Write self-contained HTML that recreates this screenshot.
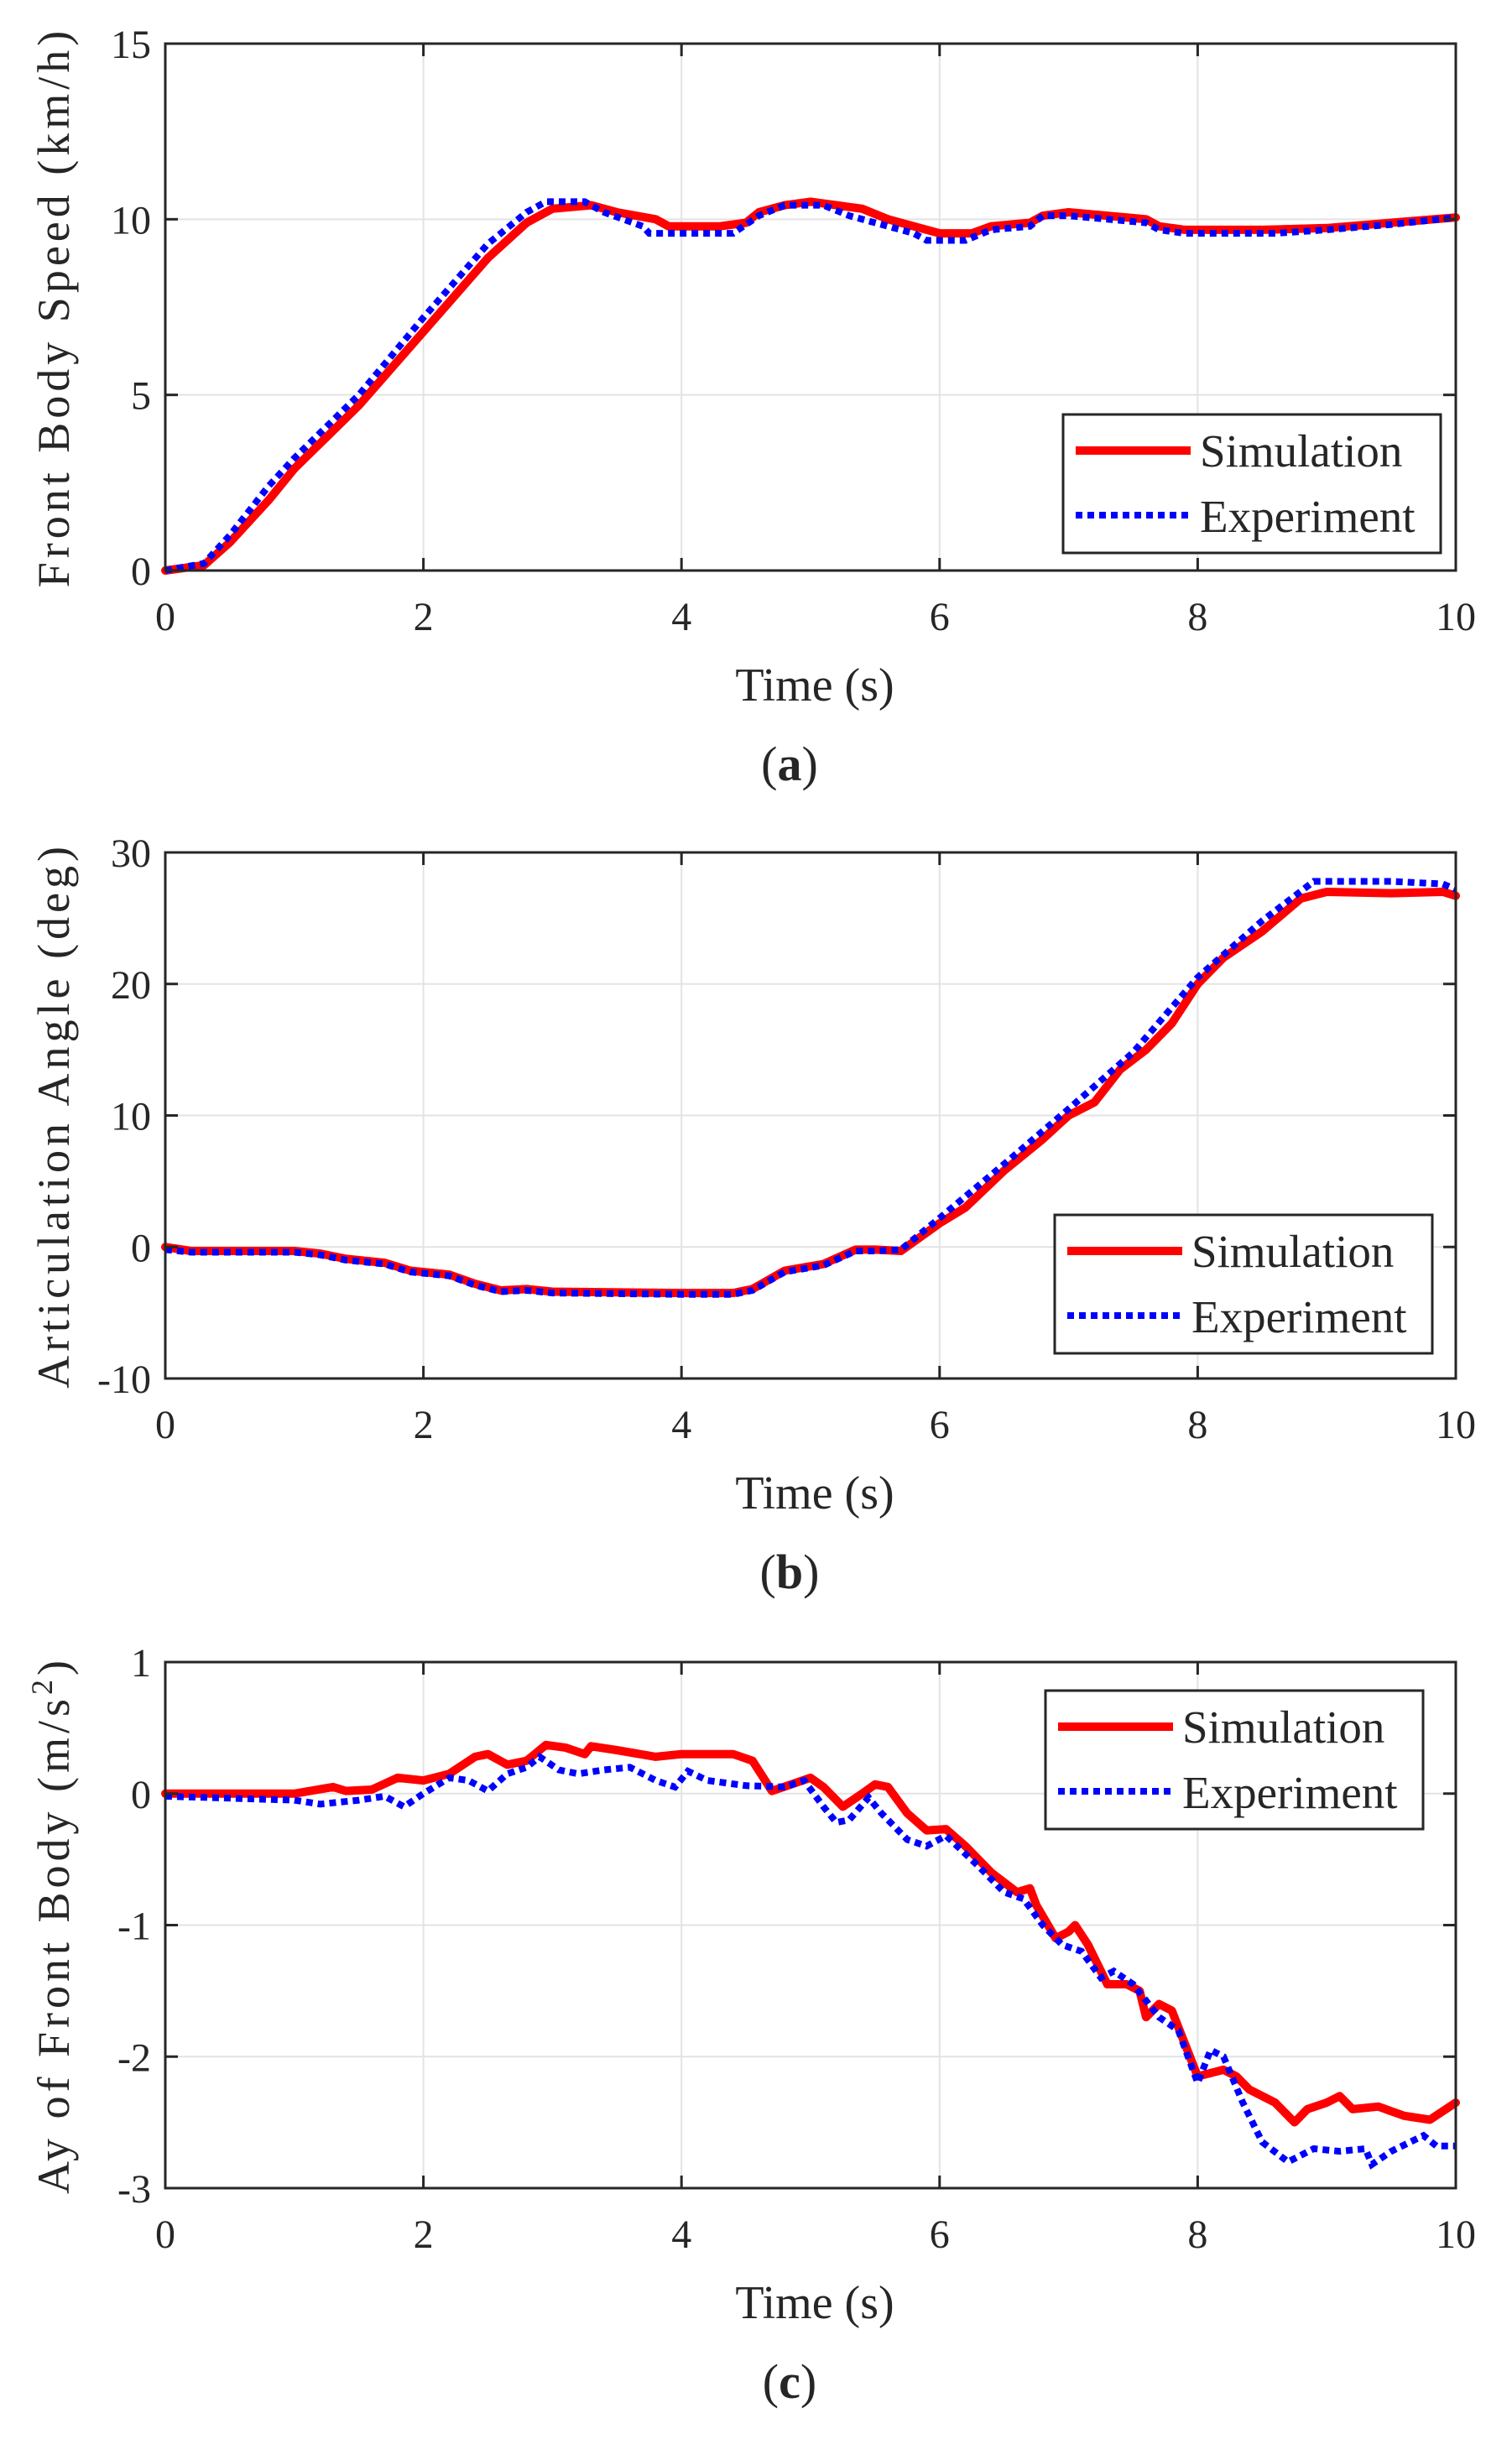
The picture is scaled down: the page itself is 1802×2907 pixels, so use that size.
<!DOCTYPE html>
<html><head><meta charset="utf-8"><style>
html,body{margin:0;padding:0;background:#fff}
svg text{font-family:"Liberation Serif",serif;fill:#262626}
</style></head><body>
<svg id="fig" xmlns="http://www.w3.org/2000/svg" width="1802" height="2902" viewBox="0 0 1802 2902"></svg>
<script>
const xTicks=[0,2,4,6,8,10];
const aTicks=[0,5,10,15];
const bTicks=[-10,0,10,20,30];
const cTicks=[-3,-2,-1,0,1];
const aSimT=[0,0.3,0.5,0.8,1.0,1.5,2.0,2.5,2.8,3.0,3.3,3.5,3.8,3.9,4.3,4.5,4.6,4.8,5.0,5.2,5.4,5.6,5.8,6.0,6.25,6.4,6.7,6.8,7.0,7.3,7.6,7.7,7.9,8.5,9.0,9.5,10];
const aSimV=[0,0.15,0.8,2.0,2.9,4.7,6.8,8.9,9.9,10.3,10.4,10.2,10.0,9.8,9.8,9.9,10.2,10.4,10.5,10.4,10.3,10.0,9.8,9.6,9.6,9.8,9.9,10.1,10.2,10.1,10.0,9.8,9.7,9.7,9.75,9.9,10.05];
const aExpT=[0,0.3,0.5,0.8,1.0,1.5,2.0,2.5,2.8,2.95,3.25,3.4,3.7,3.75,4.4,4.6,4.8,5.1,5.3,5.6,5.8,5.9,6.2,6.4,6.7,6.8,7.0,7.6,7.7,7.9,8.6,9.0,9.5,10];
const aExpV=[0,0.2,1.0,2.4,3.2,5.0,7.2,9.3,10.2,10.5,10.5,10.2,9.8,9.6,9.6,10.1,10.4,10.4,10.1,9.8,9.6,9.4,9.4,9.7,9.8,10.1,10.1,9.9,9.7,9.6,9.6,9.7,9.85,10.05];
const bSimT=[0,0.2,1.0,1.2,1.4,1.7,1.9,2.2,2.4,2.6,2.8,3.0,4.0,4.4,4.55,4.8,5.1,5.35,5.5,5.7,6.0,6.2,6.5,6.8,7.0,7.2,7.4,7.6,7.8,8.0,8.2,8.5,8.8,9.0,9.5,9.9,10];
const bSimV=[0,-0.3,-0.3,-0.5,-0.9,-1.2,-1.8,-2.1,-2.8,-3.3,-3.2,-3.4,-3.5,-3.5,-3.2,-1.8,-1.3,-0.2,-0.2,-0.3,1.8,3.0,5.8,8.2,10.0,11.0,13.5,15.0,17.0,20.0,22.0,24.0,26.5,27.0,26.9,27.0,26.7];
const bExpT=[0,0.2,1.0,1.2,1.4,1.7,1.9,2.2,2.4,2.6,2.8,3.0,4.0,4.4,4.55,4.8,5.1,5.35,5.5,5.7,6.0,6.5,7.0,7.5,8.0,8.5,8.9,9.5,9.9,10];
const bExpV=[-0.2,-0.4,-0.4,-0.6,-1.0,-1.3,-1.9,-2.2,-2.9,-3.4,-3.3,-3.5,-3.6,-3.6,-3.3,-1.9,-1.4,-0.3,-0.3,-0.2,2.2,6.3,10.5,14.8,20.5,24.8,27.8,27.8,27.6,27.2];
const cSimT=[0,1.0,1.3,1.4,1.6,1.8,2.0,2.2,2.4,2.5,2.65,2.8,2.95,3.1,3.25,3.3,3.5,3.8,4.0,4.4,4.55,4.7,4.85,5.0,5.1,5.25,5.4,5.5,5.6,5.75,5.9,6.05,6.2,6.4,6.6,6.7,6.75,6.9,7.0,7.05,7.15,7.3,7.45,7.55,7.6,7.7,7.8,7.9,8.0,8.2,8.3,8.4,8.6,8.75,8.85,9.0,9.1,9.2,9.4,9.6,9.8,10];
const cSimV=[0,0,0.05,0.02,0.03,0.12,0.1,0.15,0.28,0.3,0.22,0.25,0.37,0.35,0.3,0.36,0.33,0.28,0.3,0.3,0.25,0.02,0.07,0.12,0.05,-0.1,0.0,0.07,0.05,-0.15,-0.28,-0.27,-0.4,-0.6,-0.75,-0.72,-0.85,-1.1,-1.05,-1.0,-1.15,-1.45,-1.45,-1.5,-1.7,-1.6,-1.65,-1.9,-2.15,-2.1,-2.15,-2.25,-2.35,-2.5,-2.4,-2.35,-2.3,-2.4,-2.38,-2.45,-2.48,-2.35];
const cExpT=[0,1.0,1.2,1.5,1.7,1.85,2.0,2.2,2.35,2.5,2.65,2.8,2.9,3.05,3.2,3.4,3.6,3.8,3.95,4.05,4.2,4.5,4.8,4.95,5.1,5.2,5.3,5.45,5.55,5.75,5.9,6.05,6.3,6.5,6.65,6.8,6.95,7.1,7.25,7.35,7.5,7.7,7.85,8.0,8.1,8.2,8.35,8.5,8.7,8.9,9.1,9.3,9.35,9.5,9.75,9.85,10];
const cExpV=[-0.02,-0.05,-0.08,-0.05,-0.02,-0.1,0.0,0.12,0.1,0.02,0.15,0.2,0.28,0.18,0.15,0.18,0.2,0.1,0.05,0.17,0.1,0.06,0.05,0.1,-0.1,-0.22,-0.2,-0.03,-0.15,-0.35,-0.4,-0.32,-0.55,-0.75,-0.8,-1.0,-1.15,-1.2,-1.4,-1.35,-1.45,-1.7,-1.8,-2.2,-1.95,-2.0,-2.35,-2.65,-2.8,-2.7,-2.72,-2.7,-2.82,-2.72,-2.6,-2.68,-2.68];

const NS='http://www.w3.org/2000/svg';
const svg=document.getElementById('fig');
function mk(tag,attrs,parent){const e=document.createElementNS(NS,tag);for(const k in attrs)e.setAttribute(k,attrs[k]);(parent||svg).appendChild(e);return e;}
const L=197,R=1735;
function panel(id,top,bot,yMin,yMax,yT,ylabel,sT,sV,eT,eV,leg,letter,sup){
  const g=mk('g',{});
  
  
  const xs=v=>L+(v-0)/10*(R-L);
  const ys=v=>bot-(v-yMin)/(yMax-yMin)*(bot-top);
  xTicks.forEach(t=>{if(t>0&&t<10){const l=mk('line',{x1:xs(t),x2:xs(t),y1:top,y2:bot,stroke:'#e3e3e3','stroke-width':2},g);}});
  yT.forEach(t=>{if(t>yMin&&t<yMax){const l=mk('line',{x1:L,x2:R,y1:ys(t),y2:ys(t),stroke:'#e3e3e3','stroke-width':2},g);}});
  const pts=(T,V)=>T.map((t,i)=>xs(t).toFixed(1)+','+ys(V[i]).toFixed(1)).join(' ');
  const sl=mk('polyline',{points:pts(sT,sV),fill:'none',stroke:'#ff0000','stroke-width':10,'stroke-linejoin':'round','stroke-linecap':'round'},g);
  
  const el=mk('polyline',{points:pts(eT,eV),fill:'none',stroke:'#0000ff','stroke-width':8,'stroke-dasharray':'8 6'},g);
  
  const box=mk('rect',{x:L,y:top,width:R-L,height:bot-top,fill:'none',stroke:'#262626','stroke-width':3},g);
  
  xTicks.forEach(t=>{
    mk('line',{x1:xs(t),x2:xs(t),y1:bot,y2:bot-15,stroke:'#262626','stroke-width':3},g);
    mk('line',{x1:xs(t),x2:xs(t),y1:top,y2:top+15,stroke:'#262626','stroke-width':3},g);
    const tx=mk('text',{x:xs(t),y:bot+71,'font-size':48,'text-anchor':'middle'},g);tx.textContent=t;
    
  });
  yT.forEach(t=>{
    mk('line',{x1:L,x2:L+15,y1:ys(t),y2:ys(t),stroke:'#262626','stroke-width':3},g);
    mk('line',{x1:R,x2:R-15,y1:ys(t),y2:ys(t),stroke:'#262626','stroke-width':3},g);
    const tx=mk('text',{x:180,y:ys(t)+17,'font-size':48,'text-anchor':'end'},g);tx.textContent=t;
    
  });
  const xl=mk('text',{x:(L+R)/2+5,y:bot+155,'font-size':56,'text-anchor':'middle'},g);xl.textContent='Time (s)';
  
  const yl=mk('text',{x:0,y:0,'font-size':54,'text-anchor':'middle','letter-spacing':'5',transform:`translate(82,${(top+bot)/2}) rotate(-90)`},g);
  yl.textContent=ylabel;
  if(sup){const s=mk('tspan',{dy:-20,'font-size':36},yl);s.textContent='2';const s2=mk('tspan',{dy:20},yl);s2.textContent=')';}
  
  const cap=mk('text',{x:(L+R)/2-25,y:bot+250,'font-size':58,'text-anchor':'middle'},g);
  cap.appendChild(document.createTextNode('('));const b=mk('tspan',{'font-weight':'bold'},cap);b.textContent=letter;cap.appendChild(document.createTextNode(')'));
  
  const lg=mk('g',{},g);
  mk('rect',{x:leg[0],y:leg[1],width:450,height:165,fill:'#fff',stroke:'#262626','stroke-width':3},lg);
  mk('line',{x1:leg[0]+15,x2:leg[0]+152,y1:leg[1]+43,y2:leg[1]+43,stroke:'#ff0000','stroke-width':10},lg);
  mk('line',{x1:leg[0]+15,x2:leg[0]+152,y1:leg[1]+120,y2:leg[1]+120,stroke:'#0000ff','stroke-width':8,'stroke-dasharray':'8 6'},lg);
  const t1=mk('text',{x:leg[0]+163,y:leg[1]+62,'font-size':55},lg);t1.textContent='Simulation';
  
  const t2=mk('text',{x:leg[0]+163,y:leg[1]+140,'font-size':55},lg);t2.textContent='Experiment';
  
}
panel('a',52,680,0,15,aTicks,'Front Body Speed (km/h)',aSimT,aSimV,aExpT,aExpV,[1267,494],'a',false);
panel('b',1016,1643,-10,30,bTicks,'Articulation Angle (deg)',bSimT,bSimV,bExpT,bExpV,[1257,1448],'b',false);
panel('c',1981,2608,-3,1,cTicks,'Ay of Front Body (m/s',cSimT,cSimV,cExpT,cExpV,[1246,2015],'c',true);
</script>
</body></html>
